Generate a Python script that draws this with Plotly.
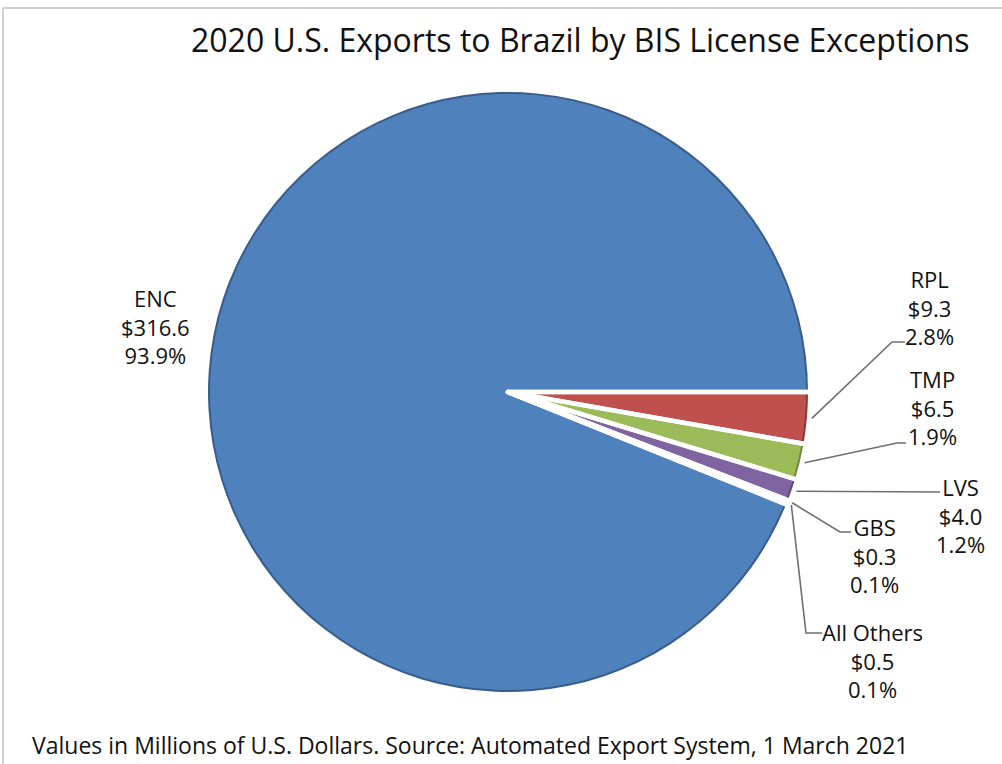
import math
import plotly.graph_objects as go

# ---- data ----
categories = ["ENC", "RPL", "TMP", "LVS", "GBS", "All Others"]
values = [316.6, 9.3, 6.5, 4.0, 0.3, 0.5]
percents = ["93.9%", "2.8%", "1.9%", "1.2%", "0.1%", "0.1%"]

# ---- styling / layout ----
W, H = 1002, 764
CX, CY, R = 508, 392, 300
fill_colors = ["#4F81BD", "#C0504D", "#9BBB59", "#8064A2", "#4BACC6", "#F79646"]
rim_colors = ["#385D8A", "#8C3836", "#71893F", "#5C4776", "#357D91", "#B66D31"]
FONT = "Open Sans"

# label block centres (pixels) and leader elbows (pixels)
label_pos = [(155, 326), (929, 307), (932, 407), (960, 515), (874, 555), (872, 660)]
elbows = [[], [(892, 342), (905, 342)], [(897, 443), (906, 443)], [(940, 492)],
          [(840, 532), (851, 532)], [(806, 633), (822, 633)]]

total = sum(values)
# ENC ends at 3 o'clock, remaining slices follow clockwise
rotation = 90 + 360 * sum(values[1:]) / total


def px(x):
    return x / W


def py(y):
    return 1 - y / H


def domain(r):
    return dict(x=[px(CX - r), px(CX + r)], y=[py(CY + r), py(CY - r)])


common = dict(labels=categories, values=values, sort=False, direction="clockwise",
              rotation=rotation, textinfo="none", hoverinfo="label+value+percent",
              showlegend=False)

fig = go.Figure()
# dark rim layer
fig.add_trace(go.Pie(**common, domain=domain(R),
                     marker=dict(colors=rim_colors, line=dict(width=0))))
# main fill layer
fig.add_trace(go.Pie(**common, domain=domain(R - 2),
                     marker=dict(colors=fill_colors, line=dict(width=0))))
# white separators
fig.add_trace(go.Pie(**common, domain=domain(R + 6),
                     marker=dict(colors=["rgba(0,0,0,0)"] * len(values),
                                 line=dict(color="white", width=4.5))))

annotations = []
shapes = []
cum = 0.0
for i, (cat, v, pct) in enumerate(zip(categories, values, percents)):
    mid = rotation + 360 * (cum + v / 2) / total
    cum += v
    lx, ly = label_pos[i]
    annotations.append(dict(
        x=px(lx), y=py(ly), xref="paper", yref="paper", showarrow=False,
        text=f"{cat}<br>${v:.1f}<br>{pct}", align="center",
        xanchor="center", yanchor="middle",
        font=dict(family=FONT, size=22, color="#111111")))
    if elbows[i]:
        a = math.radians(mid)
        sx = CX + (R + 5) * math.sin(a)
        sy = CY - (R + 5) * math.cos(a)
        pts = [(sx, sy)] + elbows[i]
        path = "M " + " L ".join(f"{px(x):.5f},{py(y):.5f}" for x, y in pts)
        shapes.append(dict(type="path", path=path, xref="paper", yref="paper",
                           line=dict(color="#6f6f6f", width=1.6)))

# title and footer
annotations.append(dict(x=px(580), y=py(40), xref="paper", yref="paper", showarrow=False,
                        text="2020 U.S. Exports to Brazil by BIS License Exceptions",
                        xanchor="center", yanchor="middle",
                        font=dict(family=FONT, size=32, color="#111111")))
annotations.append(dict(x=px(30), y=py(745), xref="paper", yref="paper", showarrow=False,
                        text="Values in Millions of U.S. Dollars. Source: Automated Export System, 1 March 2021",
                        xanchor="left", yanchor="middle",
                        font=dict(family=FONT, size=23, color="#111111")))

# outer frame (left and top edges)
shapes.append(dict(type="line", xref="paper", yref="paper", x0=px(3), x1=px(3),
                   y0=py(8), y1=0, line=dict(color="#d0d0d0", width=2)))
shapes.append(dict(type="line", xref="paper", yref="paper", x0=px(3), x1=1,
                   y0=py(8), y1=py(8), line=dict(color="#d0d0d0", width=2)))

fig.update_layout(width=W, height=H, margin=dict(l=0, r=0, t=0, b=0),
                  paper_bgcolor="white", plot_bgcolor="white",
                  annotations=annotations, shapes=shapes)

fig.write_html("out.html", config={"displayModeBar": False},
               post_script="document.body.style.margin='0px';document.body.style.padding='0px';")
